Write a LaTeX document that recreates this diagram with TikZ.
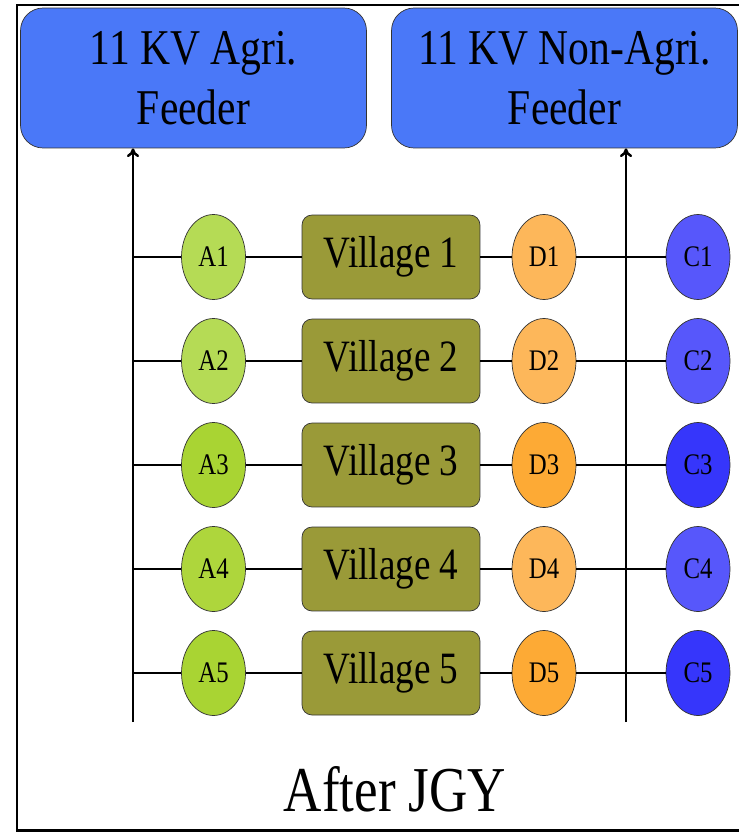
\documentclass[tikz,border=0pt]{standalone}
\usepackage{fontspec}
\setmainfont{Liberation Serif}[FakeStretch=0.83]
\usetikzlibrary{shapes.geometric,arrows.meta}

\definecolor{feederblue}{HTML}{4A78F8}
\definecolor{villageolive}{HTML}{9A9A38}
\definecolor{agrilight}{HTML}{B5DB55}
\definecolor{agrimid}{HTML}{AED63C}
\definecolor{agridark}{HTML}{A9D433}
\definecolor{domlight}{HTML}{FDB75A}
\definecolor{domdark}{HTML}{FDAA35}
\definecolor{comlight}{HTML}{5757FB}
\definecolor{comdark}{HTML}{3636FB}

\tikzset{
  feeder/.style={draw=black!80,fill=feederblue,rounded corners=0.45cm,minimum width=6.92cm,minimum height=2.8cm,align=center,inner sep=0pt,font=\fontsize{28.5}{34.5}\selectfont},
  village/.style={draw=black!80,fill=villageolive,rounded corners=0.2cm,minimum width=3.56cm,minimum height=1.68cm,inner sep=0pt,font=\fontsize{25.5}{30}\selectfont},
  load/.style={draw=black!80,ellipse,minimum width=1.28cm,minimum height=1.7cm,inner sep=0pt,font=\fontsize{17}{20}\selectfont},
  bus/.style={line width=1.4pt},
  wire/.style={line width=0.8pt}
}

\begin{document}
\begin{tikzpicture}[x=0.02cm,y=-0.02cm]
\useasboundingbox (0,0) rectangle (739,832);
\draw[line width=1.7pt] (745,5) -- (17,5) -- (17,830) -- (745,830);
% feeders
\node[feeder] (agri) at (193.5,78) {11 KV Agri.\\Feeder};
\node[feeder] (nonagri) at (564.5,78) {11 KV Non-Agri.\\Feeder};
\coordinate (agribot) at (133,722);
\coordinate (nonagribot) at (626,722);
\draw[bus,-{To[length=5pt,width=7pt]}] (agribot) -- (agribot |- agri.south);
\draw[bus,-{To[length=5pt,width=7pt]}] (nonagribot) -- (nonagribot |- nonagri.south);
% villages and loads
\foreach \i/\ca/\cd/\cc in {1/agrilight/domlight/comlight,2/agrilight/domlight/comlight,3/agridark/domdark/comdark,4/agrimid/domlight/comlight,5/agridark/domdark/comdark}{
  \pgfmathsetmacro\rowy{153+104*\i}
  \node[load,fill=\ca] (A\i) at (213.5,\rowy) {A\i};
  \node[village] (V\i) at (391,\rowy) {Village \i};
  \node[load,fill=\cd] (D\i) at (544,\rowy) {D\i};
  \node[load,fill=\cc] (C\i) at (698,\rowy) {C\i};
  \draw[wire] (agribot |- A\i) -- (A\i) -- (V\i) -- (D\i) -- (C\i);
}
\node[anchor=base,font=\fontsize{36.4}{44}\selectfont] (caption) at (395,811) {After JGY};
\end{tikzpicture}
\end{document}
